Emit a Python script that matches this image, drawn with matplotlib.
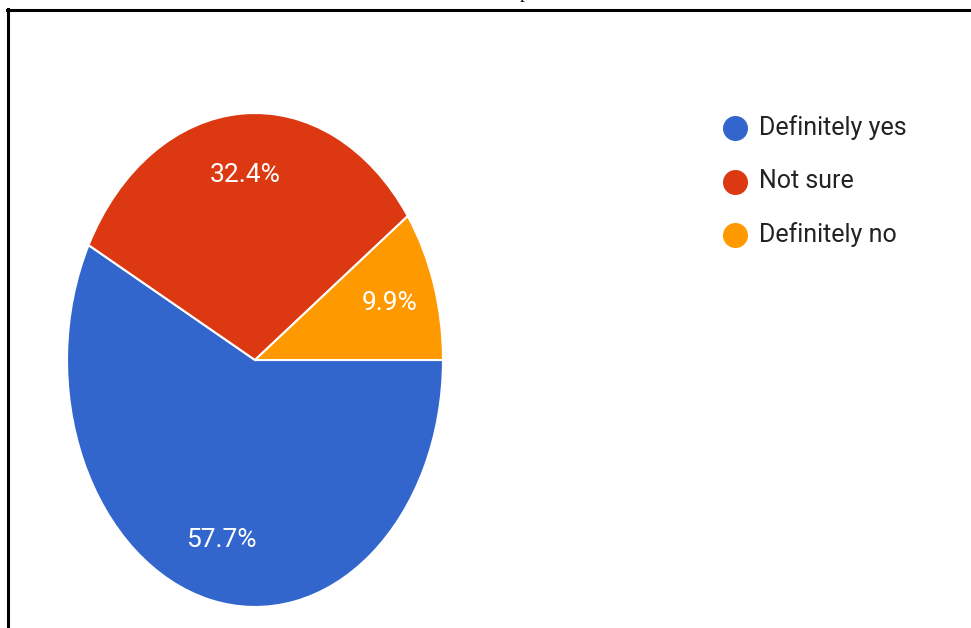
import matplotlib
matplotlib.use("Agg")
import matplotlib.pyplot as plt
from matplotlib.lines import Line2D

# survey answers (percent)
labels = ["Definitely yes", "Not sure", "Definitely no"]
values = [57.7, 32.4, 9.9]
colors = ["#3366CC", "#DC3912", "#FF9900"]

W, H = 971, 628
fig = plt.figure(figsize=(W / 100, H / 100), dpi=100)
plt.rcParams["font.family"] = ["Roboto", "DejaVu Sans"]

# pie is stretched vertically in the original, so use an elliptical axes
cx, cy, rx, ry = 255, 360, 188, 247
ax = fig.add_axes([(cx - rx) / W, (H - cy - ry) / H, 2 * rx / W, 2 * ry / H])
wedges, texts, autotexts = ax.pie(
    values, colors=colors, startangle=0, counterclock=False,
    autopct="%.1f%%", pctdistance=0.75, radius=1,
    wedgeprops=dict(edgecolor="white", linewidth=1.5),
    textprops=dict(color="white", fontsize=19),
)
ax.set_aspect("auto")
ax.set_xlim(-1, 1)
ax.set_ylim(-1, 1)
ax.axis("off")

# legend drawn by hand to match spacing
for i, (lab, col) in enumerate(zip(labels, colors)):
    y = 1 - (128 + i * 53.5) / H
    fig.add_artist(Line2D([735 / W], [y], marker="o", markersize=17,
                          color=col, linestyle="none"))
    fig.text(759 / W, y, lab, fontsize=18, color="#222222", va="center", ha="left")

# frame lines (top and left only visible)
fig.add_artist(Line2D([7 / W, 1], [1 - 10 / H, 1 - 10 / H], color="black", linewidth=2.2))
fig.add_artist(Line2D([8 / W, 8 / W], [0, 1 - 9 / H], color="black", linewidth=2.2))

# cut-off caption fragment at the very top (cut in the original too)
fig.text(524 / W, 1 + 2 / H, "p", fontsize=14, family="Liberation Serif",
         ha="center", va="baseline", color="black")

fig.savefig("out.png", dpi=100)
